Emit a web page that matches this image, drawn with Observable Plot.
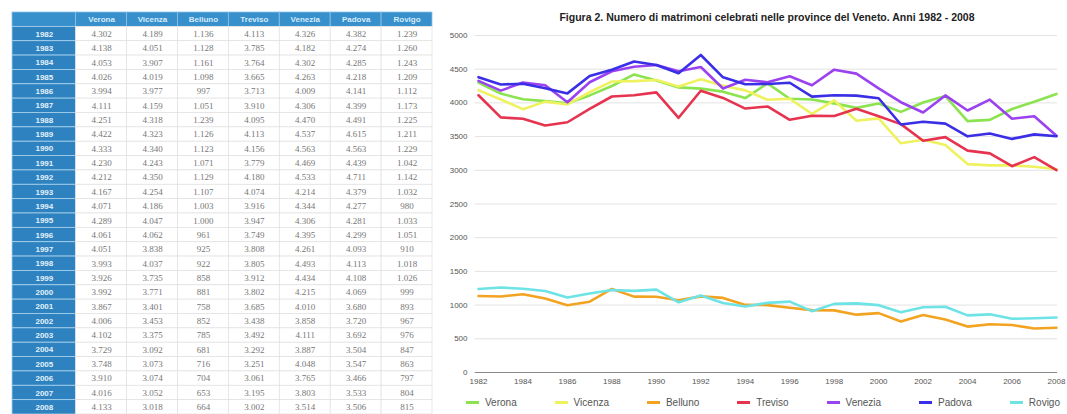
<!DOCTYPE html>
<html><head><meta charset="utf-8">
<script src="https://cdn.jsdelivr.net/npm/d3@7"></script>
<script src="https://cdn.jsdelivr.net/npm/@observablehq/plot@0.6"></script>
<style>
body{margin:0;background:#fff;}
#wrap{position:relative;width:1067px;height:414px;overflow:hidden;font-family:"Liberation Sans",Arial,sans-serif;}
#table{position:absolute;left:0;top:0;}
#chart{position:absolute;left:440px;top:0;}
#title{position:absolute;left:478px;width:578px;top:10px;text-align:center;font-weight:bold;font-size:10.5px;color:#222;line-height:14px;}
#legend{position:absolute;left:466px;width:594px;top:397px;display:flex;justify-content:space-between;font-size:10px;color:#555;}
.item{display:flex;align-items:center;gap:6px}
.sw{width:13px;height:2.5px;display:inline-block}
</style></head>
<body><div id="wrap"><div id="table"></div><div id="chart"></div><div id="title">Figura 2. Numero di matrimoni celebrati nelle province del Veneto. Anni 1982 - 2008</div><div id="legend"></div></div>
<script>
const years = [1982,1983,1984,1985,1986,1987,1988,1989,1990,1991,1992,1993,1994,1995,1996,1997,1998,1999,2000,2001,2002,2003,2004,2005,2006,2007,2008];
const provinces = ["Verona","Vicenza","Belluno","Treviso","Venezia","Padova","Rovigo"];
const colors = ["#8be34f","#eef25e","#f3a322","#e6334f","#9b42f0","#3a2ee6","#6de3e6"];
const verona  = [4302,4138,4053,4026,3994,4111,4251,4422,4333,4230,4212,4167,4071,4289,4061,4051,3993,3926,3992,3867,4006,4102,3729,3748,3910,4016,4133];
const vicenza = [4189,4051,3907,4019,3977,4159,4318,4323,4340,4243,4350,4254,4186,4047,4062,3838,4037,3735,3771,3401,3453,3375,3092,3073,3074,3052,3018];
const belluno = [1136,1128,1161,1098,997,1051,1239,1126,1123,1071,1129,1107,1003,1000,961,925,922,858,881,758,852,785,681,716,704,653,664];
const treviso = [4113,3785,3764,3665,3713,3910,4095,4113,4156,3779,4180,4074,3916,3947,3749,3808,3805,3912,3802,3685,3438,3492,3292,3251,3061,3195,3002];
const venezia = [4326,4182,4302,4263,4009,4306,4470,4537,4563,4469,4533,4214,4344,4306,4395,4261,4493,4434,4215,4010,3858,4111,3887,4048,3765,3803,3514];
const padova  = [4382,4274,4285,4218,4141,4399,4491,4615,4563,4439,4711,4379,4277,4281,4299,4093,4113,4108,4069,3680,3720,3692,3504,3547,3466,3533,3506];
const rovigo  = [1239,1260,1243,1209,1112,1173,1225,1211,1229,1042,1142,1032,980,1033,1051,910,1018,1026,999,893,967,976,847,863,797,804,815];
const yTicks = [0,500,1000,1500,2000,2500,3000,3500,4000,4500,5000];
const xTicks = [1982,1984,1986,1988,1990,1992,1994,1996,1998,2000,2002,2004,2006,2008];

const series = [verona,vicenza,belluno,treviso,venezia,padova,rovigo];
const fmt = d3.formatLocale({thousands:".",decimal:",",grouping:[3],currency:["","€"]}).format(",d");

// ---------- TABLE ----------
const colX1 = c => c === 0 ? 0 : c + 0.25;   // c: 0 = year column, 1..7 = provinces
const colX2 = c => c + 1.25;
const header = [{c:0,label:""}].concat(provinces.map((p,i)=>({c:i+1,label:p})));
const yearCells = years.map((y,r)=>({c:0,r:r+1,label:String(y)}));
const valueCells = [];
years.forEach((y,r)=>series.forEach((s,i)=>valueCells.push({c:i+1,r:r+1,label:fmt(s[r])})));

const table = Plot.plot({
  width:440, height:414,
  marginLeft:12, marginRight:8, marginTop:12, marginBottom:0,
  x:{type:"linear", domain:[0,8.25], axis:null},
  y:{type:"linear", domain:[0,28], reverse:true, axis:null},
  style:{fontFamily:"'Liberation Sans',Arial,sans-serif", background:"transparent"},
  marks:[
    Plot.rect(header,{x1:d=>colX1(d.c),x2:d=>colX2(d.c),y1:0,y2:1,fill:"#3790cc",stroke:"#8cc2e6",strokeWidth:0.8}),
    Plot.rect(yearCells,{x1:d=>colX1(d.c),x2:d=>colX2(d.c),y1:d=>d.r,y2:d=>d.r+1,fill:"#2e82c0",stroke:"#a9d3ee",strokeWidth:0.8}),
    Plot.rect(valueCells,{x1:d=>colX1(d.c),x2:d=>colX2(d.c),y1:d=>d.r,y2:d=>d.r+1,fill:"#ffffff",stroke:"#e0e0e0",strokeWidth:0.7}),
    Plot.text(header,{x:d=>(colX1(d.c)+colX2(d.c))/2,y:0.5,text:"label",fill:"#d6ecfa",fontSize:8,fontWeight:"bold"}),
    Plot.text(yearCells,{x:d=>(colX1(d.c)+colX2(d.c))/2,y:d=>d.r+0.5,text:"label",fill:"#e3f1fb",fontSize:8,fontWeight:"bold"}),
    Plot.text(valueCells,{x:d=>(colX1(d.c)+colX2(d.c))/2,y:d=>d.r+0.5,text:"label",fill:"#777777",fontSize:9,fontFamily:"'Liberation Serif','DejaVu Serif',serif"})
  ]
});
document.getElementById("table").appendChild(table);

// ---------- CHART ----------
const rows = [];
provinces.forEach((p,i)=>years.forEach((y,j)=>rows.push({year:y,province:p,value:series[i][j]})));

const chart = Plot.plot({
  width:627, height:390,
  marginLeft:38, marginRight:11, marginTop:35, marginBottom:18,
  x:{domain:[1982,2008], label:null},
  y:{domain:[0,5000], label:null},
  color:{domain:provinces, range:colors},
  style:{fontFamily:"'Liberation Sans',Arial,sans-serif", fontSize:"8px", color:"#555", background:"transparent"},
  marks:[
    Plot.ruleY(yTicks.filter(d=>d>0),{stroke:"#e2e2e2",strokeWidth:1,x1:1981.85,x2:2008.05}),
    Plot.ruleY([0],{stroke:"#8a8a8a",strokeWidth:1.2,x1:1981.85,x2:2008.05}),
    Plot.axisY(yTicks,{tickSize:0,tickPadding:11,tickFormat:d=>String(d),fontSize:8,label:null}),
    Plot.axisX(xTicks,{tickSize:0,tickPadding:6,tickFormat:d=>String(d),fontSize:8,label:null}),
    Plot.line(rows,{x:"year",y:"value",z:"province",stroke:"province",strokeWidth:2.6,strokeLinejoin:"round",strokeLinecap:"round"})
  ]
});
document.getElementById("chart").appendChild(chart);

// ---------- LEGEND ----------
const legend = document.getElementById("legend");
provinces.forEach((p,i)=>{
  const it = document.createElement("div"); it.className="item";
  const sw = document.createElement("span"); sw.className="sw"; sw.style.background=colors[i];
  const tx = document.createElement("span"); tx.textContent=p;
  it.appendChild(sw); it.appendChild(tx); legend.appendChild(it);
});
</script>
</body></html>
